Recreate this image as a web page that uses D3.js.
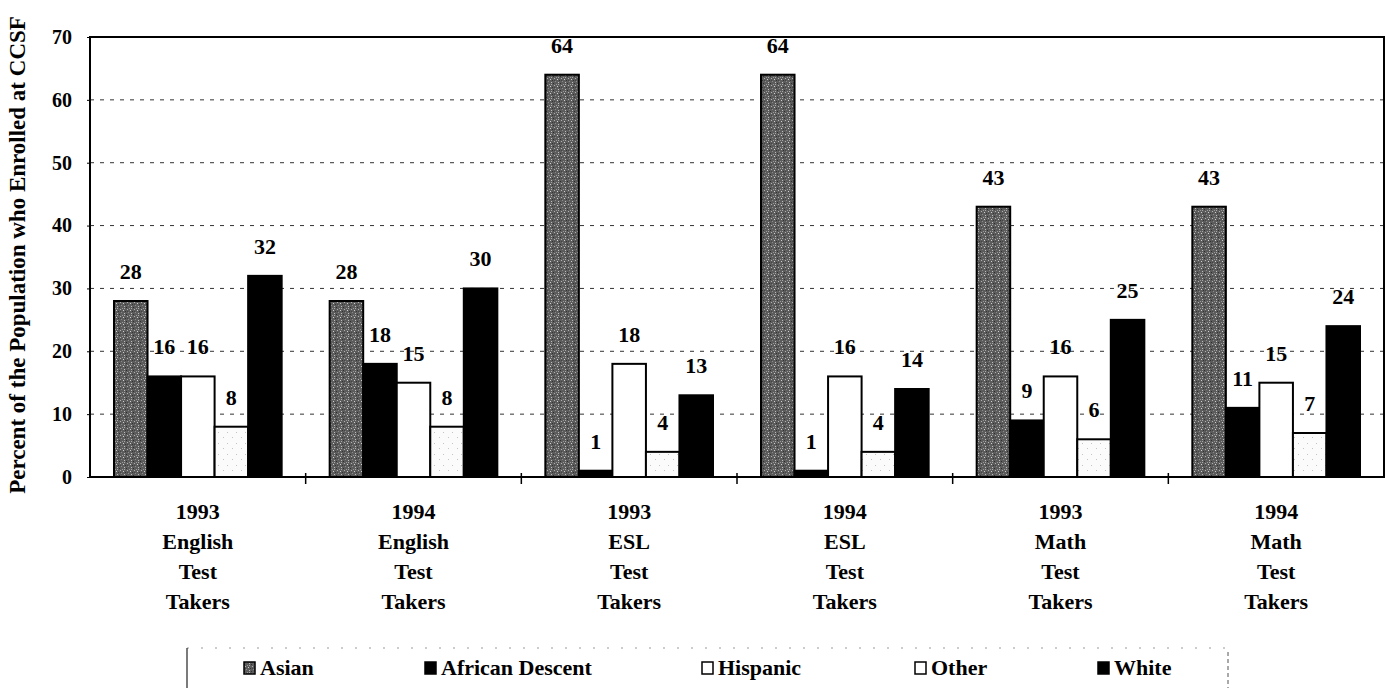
<!DOCTYPE html>
<html>
<head>
<meta charset="utf-8">
<script src="https://cdn.jsdelivr.net/npm/d3@7"></script>
<style>
  html, body { margin: 0; padding: 0; background: #fff; }
  svg { display: block; }
  text { font-family: "Liberation Serif", "Times New Roman", "DejaVu Serif", serif; font-weight: bold; fill: #000; }
</style>
</head>
<body>
<svg id="chart" width="1388" height="688"></svg>
<script>
// ---- Data ----
const groups = ["1993 English", "1994 English", "1993 ESL", "1994 ESL", "1993 Math", "1994 Math"];
const groupLabels = [
  ["1993", "English", "Test", "Takers"],
  ["1994", "English", "Test", "Takers"],
  ["1993", "ESL", "Test", "Takers"],
  ["1994", "ESL", "Test", "Takers"],
  ["1993", "Math", "Test", "Takers"],
  ["1994", "Math", "Test", "Takers"]
];
const seriesNames = ["Asian", "African Descent", "Hispanic", "Other", "White"];
const asian    = [28, 28, 64, 64, 43, 43];
const african  = [16, 18, 1, 1, 9, 11];
const hispanic = [16, 15, 18, 16, 16, 15];
const other    = [8, 8, 4, 4, 6, 7];
const white    = [32, 30, 13, 14, 25, 24];
const yTicks = [0, 10, 20, 30, 40, 50, 60, 70];
const yTitle = "Percent of the Population who Enrolled at CCSF";

const seriesValues = [asian, african, hispanic, other, white];
const rows = [];
groups.forEach((g, gi) => {
  seriesNames.forEach((s, si) => rows.push({ group: g, gi, series: s, si, value: seriesValues[si][gi] }));
});

// ---- Layout ----
const svg = d3.select("#chart");
const plot = { left: 90, right: 1384, top: 37, bottom: 477 };

const x0 = d3.scaleBand().domain(groups).range([plot.left, plot.right]).paddingInner(0).paddingOuter(0);
const x1 = d3.scaleBand().domain(seriesNames).range([24, x0.bandwidth() - 24]).padding(0);
const y = d3.scaleLinear().domain([0, 70]).range([plot.bottom, plot.top]);

// ---- Patterns ----
const defs = svg.append("defs");
const pAsian = defs.append("pattern").attr("id", "pAsian").attr("patternUnits", "userSpaceOnUse")
  .attr("width", 7).attr("height", 7);
pAsian.append("rect").attr("width", 7).attr("height", 7).attr("fill", "#5c5c5c");
[[1,1,"#b0b0b0"],[4,2,"#cfcfcf"],[2,4,"#8a8a8a"],[5,5,"#bdbdbd"],[0,6,"#2e2e2e"],[6,3,"#333"],[3,0,"#999"],[1,3,"#444"],[5,0,"#aaa"]].forEach(([px,py,c]) => {
  pAsian.append("rect").attr("x", px).attr("y", py).attr("width", 1).attr("height", 1).attr("fill", c);
});
const pOther = defs.append("pattern").attr("id", "pOther").attr("patternUnits", "userSpaceOnUse")
  .attr("width", 9).attr("height", 11);
pOther.append("rect").attr("width", 9).attr("height", 11).attr("fill", "#fbfbfb");
[[2,3],[7,8]].forEach(([px,py]) => pOther.append("rect").attr("x", px).attr("y", py).attr("width", 1).attr("height", 1).attr("fill", "#c4c4c4"));

const fills = { "Asian": "url(#pAsian)", "African Descent": "#000", "Hispanic": "#fff", "Other": "url(#pOther)", "White": "#000" };

// ---- Gridlines ----
svg.append("g").selectAll("line").data(yTicks.filter(t => t > 0 && t < 70)).join("line")
  .attr("x1", plot.left).attr("x2", plot.right)
  .attr("y1", d => y(d)).attr("y2", d => y(d))
  .attr("stroke", "#333").attr("stroke-width", 1).attr("stroke-dasharray", "4,6");

// ---- Bars ----
svg.append("g").selectAll("rect").data(rows).join("rect")
  .attr("x", d => x0(d.group) + x1(d.series))
  .attr("y", d => y(d.value))
  .attr("width", x1.bandwidth())
  .attr("height", d => y(0) - y(d.value))
  .attr("fill", d => fills[d.series])
  .attr("stroke", "#000").attr("stroke-width", 2);

// ---- Value labels ----
svg.append("g").selectAll("text").data(rows).join("text")
  .attr("x", d => x0(d.group) + x1(d.series) + x1.bandwidth() / 2)
  .attr("y", d => y(d.value) - 22)
  .attr("text-anchor", "middle")
  .attr("font-size", 22)
  .text(d => d.value);

// ---- Frame ----
svg.append("rect").attr("x", plot.left).attr("y", plot.top)
  .attr("width", plot.right - plot.left).attr("height", plot.bottom - plot.top)
  .attr("fill", "none").attr("stroke", "#000").attr("stroke-width", 2);

// ---- Y axis ----
const yAxis = svg.append("g").attr("transform", `translate(${plot.left},0)`)
  .call(d3.axisLeft(y).tickValues(yTicks).tickSize(3).tickPadding(15));
yAxis.select(".domain").remove();
yAxis.selectAll("text").attr("font-size", 20).attr("font-family", "Liberation Serif").attr("font-weight", "bold").attr("fill", "#000");
yAxis.selectAll("line").attr("stroke", "#000");

// ---- X axis (ticks between groups) ----
const xTickPos = groups.slice(1).map(g => x0(g));
svg.append("g").selectAll("line").data(xTickPos).join("line")
  .attr("x1", d => d).attr("x2", d => d)
  .attr("y1", plot.bottom - 4).attr("y2", plot.bottom + 7)
  .attr("stroke", "#000").attr("stroke-width", 1.5);

const xl = svg.append("g").selectAll("text").data(groups).join("text")
  .attr("x", d => x0(d) + x0.bandwidth() / 2)
  .attr("y", 519)
  .attr("text-anchor", "middle")
  .attr("font-size", 22);
xl.each(function(d, i) {
  const t = d3.select(this);
  groupLabels[i].forEach((line, li) => {
    t.append("tspan").attr("x", x0(d) + x0.bandwidth() / 2).attr("dy", li === 0 ? 0 : 30).text(line);
  });
});

// ---- Y title ----
svg.append("text")
  .attr("transform", `translate(25,255) rotate(-90)`)
  .attr("text-anchor", "middle")
  .attr("font-size", 23)
  .text(yTitle);

// ---- Legend ----
const legendX = [244, 425, 702, 915, 1098];
const legend = svg.append("g");
legend.append("line").attr("x1", 187).attr("x2", 1228).attr("y1", 648).attr("y2", 648)
  .attr("stroke", "#999").attr("stroke-width", 1).attr("stroke-dasharray", "2,12");
legend.append("line").attr("x1", 187).attr("x2", 187).attr("y1", 648).attr("y2", 688).attr("stroke", "#222").attr("stroke-width", 1.2);
legend.append("line").attr("x1", 1228).attr("x2", 1228).attr("y1", 652).attr("y2", 688).attr("stroke", "#555").attr("stroke-width", 1).attr("stroke-dasharray", "4,3");
const items = legend.selectAll("g.item").data(seriesNames).join("g").attr("class", "item")
  .attr("transform", (d, i) => `translate(${legendX[i]},0)`);
items.append("rect").attr("x", 0).attr("y", 662).attr("width", 11).attr("height", 12)
  .attr("fill", d => d === "Other" ? "#fff" : fills[d]).attr("stroke", "#000").attr("stroke-width", 1.5);
items.append("text").attr("x", 16).attr("y", 675).attr("font-size", 22).text(d => d);
</script>
</body>
</html>
